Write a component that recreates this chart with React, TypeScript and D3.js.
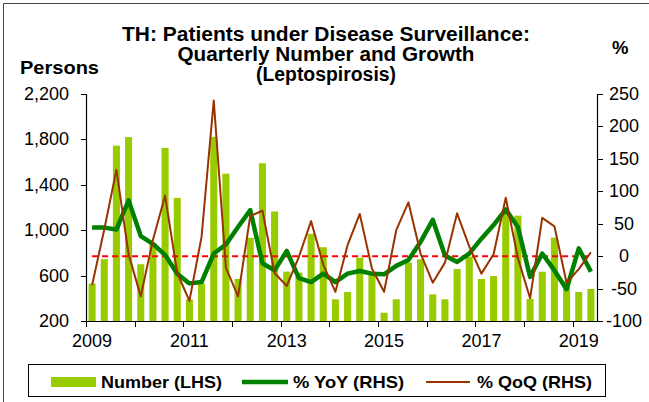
import React from "react";
import * as d3 from "d3";

const quarters = [
  "2009Q1","2009Q2","2009Q3","2009Q4","2010Q1","2010Q2","2010Q3","2010Q4",
  "2011Q1","2011Q2","2011Q3","2011Q4","2012Q1","2012Q2","2012Q3","2012Q4",
  "2013Q1","2013Q2","2013Q3","2013Q4","2014Q1","2014Q2","2014Q3","2014Q4",
  "2015Q1","2015Q2","2015Q3","2015Q4","2016Q1","2016Q2","2016Q3","2016Q4",
  "2017Q1","2017Q2","2017Q3","2017Q4","2018Q1","2018Q2","2018Q3","2018Q4",
  "2019Q1","2019Q2",
];

const numberLHS = [
  530, 745, 1745, 1820, 700, 885, 1725, 1285, 390, 530,
  1822, 1498, 570, 933, 1590, 1165, 635, 626, 968, 850,
  391, 455, 758, 605, 273, 391, 715, 744, 435, 391,
  658, 767, 570, 596, 1145, 1128, 394, 634, 934, 550,
  455, 482,
];

const yoyRHS = [
  44, 44, 41, 86, 31, 19, 2, -27, -42, -40,
  4, 18, 45, 71, -11, -22, 8, -34, -40, -27,
  -40, -27, -23, -27, -28, -15, -6, 22, 56, 1,
  -9, 4, 27, 48, 72, 45, -32, 4, -22, -51,
  12, -24,
];

const qoqRHS = [
  -45, 41, 133, 3, -62, 25, 93, -26, -69, 30,
  240, -18, -62, 62, 70, -26, -46, -1, 54, -13,
  -55, 17, 65, -19, -55, 40, 83, 4, -41, -10,
  66, 15, -27, 3, 90, -3, -65, 59, 46, -41,
  -20, 6,
];

const leftTicks = [200, 600, 1000, 1400, 1800, 2200];
const rightTicks = [-100, -50, 0, 50, 100, 150, 200, 250];
const yearLabels = ["2009", "2011", "2013", "2015", "2017", "2019"];
const yearTicks = ["2009","2010","2011","2012","2013","2014","2015","2016","2017","2018","2019"];

const titleLines = [
  "TH: Patients under Disease Surveillance:",
  "Quarterly Number and Growth",
  "(Leptospirosis)",
];
const titleWidths = [408, 297, 140];

const FONT = "'Liberation Sans', Arial, sans-serif";

export default function App() {
  const x0 = 86, x1 = 597, yTop = 94, yBot = 321;
  const x = d3.scaleBand<string>().domain(quarters).range([x0, x1]).paddingInner(0.42).paddingOuter(0.21);
  const yL = d3.scaleLinear().domain([200, 2200]).range([yBot, yTop]);
  const yR = d3.scaleLinear().domain([-100, 250]).range([yBot, yTop]);
  const cx = (q: string) => (x(q) as number) + x.bandwidth() / 2;
  const step = x.step();
  const slotStart = (q: string) => (x(q) as number) - (step - x.bandwidth()) / 2;

  const yoyLine = d3.line<number>().x((_, i) => cx(quarters[i])).y((d) => yR(d));
  const qoqLine = d3.line<number>().x((_, i) => cx(quarters[i])).y((d) => yR(d));
  const fmt = d3.format(",");

  return (
    <svg width={649} height={402} style={{ position: "fixed", left: 0, top: 0, background: "#fff" }} fontFamily={FONT}>
      <rect x={0} y={0} width={649} height={402} fill="#fff" />
      <path d="M3.5,402V3.5H649" fill="none" stroke="#444" strokeWidth={1} />

      {/* title */}
      {titleLines.map((t, i) => (
        <text key={i} x={326} y={41 + i * 20} textAnchor="middle" fontWeight="bold" fontSize={19.5}
          textLength={titleWidths[i]} lengthAdjust="spacingAndGlyphs" fill="#000">{t}</text>
      ))}
      <text x={20} y={74} fontWeight="bold" fontSize={18.5} textLength={79} lengthAdjust="spacingAndGlyphs" fill="#000">Persons</text>
      <text x={612} y={54} fontWeight="bold" fontSize={18.5} fill="#000">%</text>

      {/* bars */}
      {numberLHS.map((v, i) => (
        <rect key={i} x={x(quarters[i])} y={yL(v)} width={x.bandwidth()} height={yBot - yL(v)} fill="#99CC00" />
      ))}

      {/* zero dashed line */}
      <line x1={cx(quarters[0])} x2={cx(quarters[quarters.length - 1])} y1={yR(0)} y2={yR(0)} stroke="#FF0000" strokeWidth={2} strokeDasharray="6,4" />

      <path d={yoyLine(yoyRHS) || ""} fill="none" stroke="#008000" strokeWidth={4.5} strokeLinejoin="round" />
      <path d={qoqLine(qoqRHS) || ""} fill="none" stroke="#993300" strokeWidth={2} strokeLinejoin="round" />

      {/* axes */}
      <line x1={x0} x2={x1} y1={yBot + 0.5} y2={yBot + 0.5} stroke="#000" strokeWidth={1.2} />
      <line x1={x0 + 0.5} x2={x0 + 0.5} y1={yTop} y2={yBot} stroke="#000" strokeWidth={1.2} />
      <line x1={x1 + 0.5} x2={x1 + 0.5} y1={yTop} y2={yBot} stroke="#000" strokeWidth={1.2} />

      {leftTicks.map((t) => (
        <g key={t}>
          <line x1={x0 - 5} x2={x0} y1={Math.round(yL(t)) + 0.5} y2={Math.round(yL(t)) + 0.5} stroke="#000" />
          <text x={69} y={yL(t) + 6} textAnchor="end" fontSize={18} fill="#000">{fmt(t)}</text>
        </g>
      ))}
      {rightTicks.map((t) => (
        <g key={t}>
          <line x1={x1} x2={x1 + 6} y1={Math.round(yR(t)) + 0.5} y2={Math.round(yR(t)) + 0.5} stroke="#000" />
          <text x={624} y={yR(t) + 6} textAnchor="middle" fontSize={18} fill="#000">{t}</text>
        </g>
      ))}
      {yearTicks.map((yr) => {
        const xx = Math.round(slotStart(yr + "Q1")) + 0.5;
        return <line key={yr} x1={xx} x2={xx} y1={yBot} y2={yBot + 6} stroke="#000" />;
      })}
      {yearLabels.map((yr) => (
        <text key={yr} x={cx(yr + "Q1")} y={347} textAnchor="middle" fontSize={18} fill="#000">{yr}</text>
      ))}

      {/* legend */}
      <rect x={28.5} y={364.5} width={577} height={32} fill="#fff" stroke="#000" strokeWidth={1} />
      <rect x={51} y={377} width={45} height={10} fill="#99CC00" />
      <text x={101} y={388} fontWeight="bold" fontSize={17} textLength={121} lengthAdjust="spacingAndGlyphs" fill="#000">Number (LHS)</text>
      <line x1={242} x2={288} y1={382} y2={382} stroke="#008000" strokeWidth={4.5} />
      <text x={293} y={388} fontWeight="bold" fontSize={17} textLength={111} lengthAdjust="spacingAndGlyphs" fill="#000">% YoY (RHS)</text>
      <line x1={426} x2={470} y1={382} y2={382} stroke="#993300" strokeWidth={2} />
      <text x={477} y={388} fontWeight="bold" fontSize={17} textLength={115} lengthAdjust="spacingAndGlyphs" fill="#000">% QoQ (RHS)</text>
    </svg>
  );
}
